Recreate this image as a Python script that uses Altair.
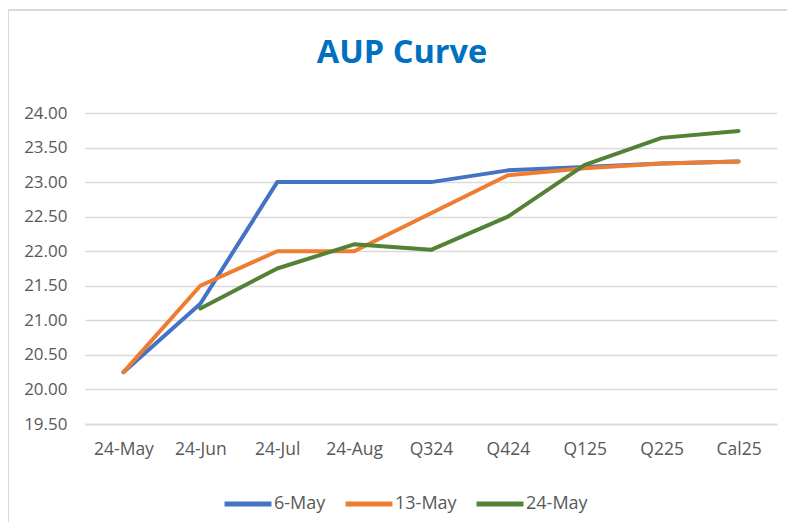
import altair as alt
import pandas as pd

categories = ["24-May", "24-Jun", "24-Jul", "24-Aug", "Q324", "Q424", "Q125", "Q225", "Cal25"]
series_names = ["6-May", "13-May", "24-May"]
may6 = [20.25, 21.24, 23.00, 23.00, 23.00, 23.17, 23.22, 23.27, 23.30]
may13 = [20.25, 21.50, 22.00, 22.00, 22.55, 23.10, 23.20, 23.27, 23.30]
may24 = [None, 21.17, 21.75, 22.10, 22.02, 22.50, 23.25, 23.64, 23.74]
colors = ["#4472C4", "#ED7D31", "#548235"]
y_ticks = [19.5, 20.0, 20.5, 21.0, 21.5, 22.0, 22.5, 23.0, 23.5, 24.0]

rows = []
for name, vals in zip(series_names, [may6, may13, may24]):
    for i, (c, v) in enumerate(zip(categories, vals)):
        if v is not None:
            rows.append({"cat": c, "value": v, "series": name, "order": i})
df = pd.DataFrame(rows)

FONT = "Open Sans"
GRAY = "#595959"

lines = alt.Chart(df).mark_line(strokeWidth=4, strokeCap="round", strokeJoin="round").encode(
    x=alt.X("cat:N", sort=categories, scale=alt.Scale(type="point", padding=0.5),
            axis=alt.Axis(title=None, labelAngle=0, ticks=False, tickSize=0, labelPadding=16,
                          domainColor="#D9D9D9", domainWidth=1.5, grid=False,
                          labelFont=FONT, labelFontSize=17.5, labelColor=GRAY)),
    y=alt.Y("value:Q", scale=alt.Scale(domain=[19.5, 24.0], nice=False, zero=False),
            axis=alt.Axis(title=None, values=y_ticks, format=".2f", ticks=False, tickSize=0,
                          domain=False, labelPadding=18, gridColor="#D9D9D9", gridWidth=1.5,
                          labelFont=FONT, labelFontSize=17, labelColor=GRAY)),
    color=alt.Color("series:N", sort=series_names,
                    scale=alt.Scale(domain=series_names, range=colors),
                    legend=alt.Legend(title=None, orient="none", direction="horizontal",
                                      legendX=137, legendY=365, symbolType="stroke",
                                      symbolSize=2200, symbolStrokeWidth=5, labelOffset=0,
                                      columnPadding=9, gridAlign="none", labelFont=FONT,
                                      labelFontSize=18, labelColor=GRAY)),
    order="order:Q",
)

border = alt.Chart(pd.DataFrame({"a": [0]})).mark_rect(
    fillOpacity=0, stroke="#D9D9D9", strokeWidth=2, clip=False
).encode(x=alt.value(-77), x2=alt.value(760), y=alt.value(-103), y2=alt.value(460))

chart = alt.layer(border, lines).properties(
    width=692, height=311,
    autosize=alt.AutoSizeParams(type="none"),
    padding={"left": 77, "top": 105, "right": 10, "bottom": 98},
    title=alt.Title("AUP Curve", font=FONT, fontSize=32.5, fontWeight="bold", color="#0070C0",
                    anchor="middle", frame="group", dx=-29, offset=-86, baseline="alphabetic"),
).configure_view(stroke=None)

chart.save("out.html", embed_options={"renderer": "svg", "actions": False})
